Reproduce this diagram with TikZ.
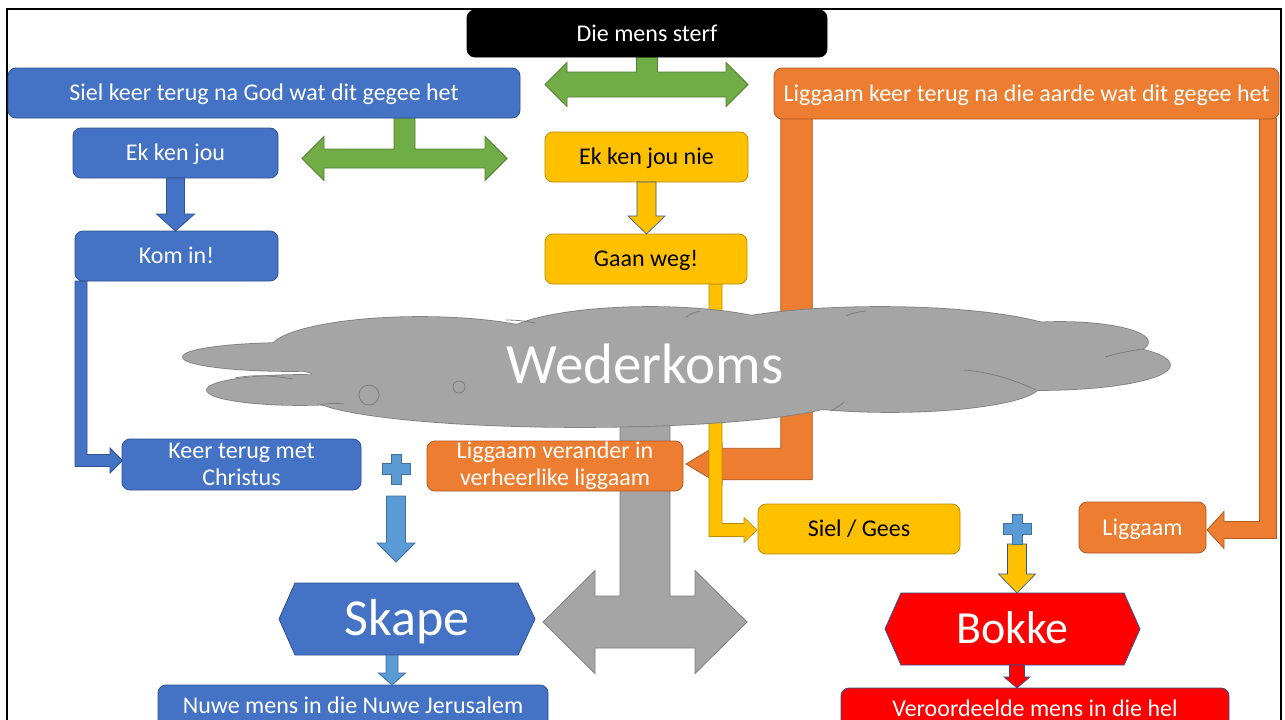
\documentclass[tikz,border=0pt]{standalone}
\usepackage{fontspec}
\setmainfont{Carlito}
\usetikzlibrary{calc}
\definecolor{cblue}{HTML}{4472C4}
\definecolor{cblueD}{HTML}{2F528F}
\definecolor{cyel}{HTML}{FFC000}
\definecolor{cyelD}{HTML}{BC8C00}
\definecolor{corg}{HTML}{ED7D31}
\definecolor{corgD}{HTML}{AE5A21}
\definecolor{cgrn}{HTML}{70AD47}
\definecolor{cgrnD}{HTML}{507E32}
\definecolor{cgray}{HTML}{A5A5A5}
\definecolor{cgrayD}{HTML}{7F7F7F}
\definecolor{clb}{HTML}{5B9BD5}
\definecolor{clbD}{HTML}{41719C}
\definecolor{cred}{HTML}{FF0000}
\definecolor{credD}{HTML}{2F528F}
\colorlet{blackD}{black}
\pgfdeclarelayer{arrows}
\pgfdeclarelayer{cloudl}
\pgfsetlayers{arrows,cloudl,main}
\newcommand\bodyfont{\fontsize{24}{27}\selectfont}
% vertical block arrow: style, start, tip, shaft half, head half, head length
\newcommand\downarr[6]{\path[#1] let \p1=(#2), \p2=(#3) in (\x1-#4,\y1) -- (\x1-#4,\y2+#6) -- (\x1-#5,\y2+#6) -- (\x1,\y2) -- (\x1+#5,\y2+#6) -- (\x1+#4,\y2+#6) -- (\x1+#4,\y1) -- cycle;}
% T-shaped double arrow: style, stem start, left tip, right tip, stem half, bar half, head half, head length
\newcommand\tarrow[8]{\path[#1] let \p1=(#2), \p2=(#3), \p3=(#4) in (\x1-#5,\y1) -- (\x1-#5,\y2+#6) -- (\x2+#8,\y2+#6) -- (\x2+#8,\y2+#7) -- (\x2,\y2) -- (\x2+#8,\y2-#7) -- (\x2+#8,\y2-#6) -- (\x3-#8,\y2-#6) -- (\x3-#8,\y2-#7) -- (\x3,\y2) -- (\x3-#8,\y2+#7) -- (\x3-#8,\y2+#6) -- (\x1+#5,\y2+#6) -- (\x1+#5,\y1) -- cycle;}
% elbow arrow down then right / left: style, start, tip, half width, head half, head length
\newcommand\elbowR[6]{\path[#1] let \p1=(#2), \p2=(#3) in (\x1-#4,\y1) -- (\x1-#4,\y2-#4) -- (\x2-#6,\y2-#4) -- (\x2-#6,\y2-#5) -- (\x2,\y2) -- (\x2-#6,\y2+#5) -- (\x2-#6,\y2+#4) -- (\x1+#4,\y2+#4) -- (\x1+#4,\y1) -- cycle;}
\newcommand\elbowL[6]{\path[#1] let \p1=(#2), \p2=(#3) in (\x1+#4,\y1) -- (\x1+#4,\y2-#4) -- (\x2+#6,\y2-#4) -- (\x2+#6,\y2-#5) -- (\x2,\y2) -- (\x2+#6,\y2+#5) -- (\x2+#6,\y2+#4) -- (\x1-#4,\y2+#4) -- (\x1-#4,\y1) -- cycle;}
\newcommand\plussign[2]{\path[#1] let \p1=(#2) in (\x1-5pt,\y1+15pt) -- (\x1+5pt,\y1+15pt) -- (\x1+5pt,\y1+5.5pt) -- (\x1+14pt,\y1+5.5pt) -- (\x1+14pt,\y1-5.5pt) -- (\x1+5pt,\y1-5.5pt) -- (\x1+5pt,\y1-15pt) -- (\x1-5pt,\y1-15pt) -- (\x1-5pt,\y1-5.5pt) -- (\x1-14pt,\y1-5.5pt) -- (\x1-14pt,\y1+5.5pt) -- (\x1-5pt,\y1+5.5pt) -- cycle;}
\tikzset{
  box/.style={draw=#1D, fill=#1, rounded corners=8pt, line width=0.8pt, font=\bodyfont,
    text height=15.5pt, text depth=0pt, align=center, text=white, inner sep=0pt, outer sep=0pt},
  box2/.style={box=#1, text height=, text depth=},
  hexn/.style={inner sep=0pt, outer sep=0pt, text=white, text depth=0pt},
  hexblue/.style={fill=cblue, draw=cblueD, line width=0.8pt},
  hexred/.style={fill=cred, draw=credD, line width=0.8pt},
  garrow/.style={fill=cgrn, draw=cgrnD, line width=0.8pt},
  barrow/.style={fill=cblue, draw=cblueD, line width=0.8pt},
  lbarrow/.style={fill=clb, draw=clbD, line width=0.8pt},
  yarrow/.style={fill=cyel, draw=cblueD, line width=0.6pt},
  ylarrow/.style={fill=cyel, draw=cyelD, line width=0.6pt},
  oarrow/.style={fill=corg, draw=corgD, line width=0.8pt},
  grarrow/.style={fill=cgray, draw=cgrayD, line width=0.8pt},
  rarrow/.style={fill=cred, draw=credD, line width=0.6pt},
  plusst/.style={fill=clb, draw=clbD, line width=0.6pt},
  cloudedge/.style={draw=cgrayD, line width=1.6pt},
  cloudline/.style={draw=cgrayD, line width=0.8pt},
}
\begin{document}
\begin{tikzpicture}[x=1pt,y=-1pt]
\useasboundingbox (0,0) rectangle (1285,720);
\clip (0,0) rectangle (1285,720);

% ---------- nodes ----------
\node[box=black, minimum width=360pt, minimum height=47pt] (die) at (647,33.5) {Die mens sterf};
\node[box=cblue, minimum width=512pt, minimum height=50pt] (sielgod) at (264,93) {Siel keer terug na God wat dit gegee het};
\node[box=cblue, minimum width=205pt, minimum height=50pt] (ekken) at (175.5,153) {Ek ken jou};
\node[box=cblue, minimum width=203pt, minimum height=50pt] (komin) at (176.5,256) {Kom in!};
\node[box2=cblue, minimum width=239pt, minimum height=51pt] (keer) at (241.5,464.5) {Keer terug met\\Christus};
\node[box=cblue, minimum width=390pt, minimum height=42pt] (nuwe) at (353,706) {Nuwe mens in die Nuwe Jerusalem};
\node[box=cyel, text=black, minimum width=203pt, minimum height=50pt] (ekkennie) at (646.5,157) {Ek ken jou nie};
\node[box=cyel, text=black, minimum width=202pt, minimum height=50pt] (gaan) at (646,259) {Gaan weg!};
\node[box=corg, minimum width=505pt, minimum height=51pt] (ligaarde) at (1026.5,93.5) {Liggaam keer terug na die aarde wat dit gegee het};
\node[box2=corg, minimum width=256pt, minimum height=50pt] (ligver) at (555,466) {Liggaam verander in\\verheerlike liggaam};
\node[box=cyel, text=black, minimum width=202pt, minimum height=50pt] (sielgees) at (859,529) {Siel / Gees};
\node[box=corg, minimum width=127pt, minimum height=51pt] (liggaam) at (1142.5,527.5) {Liggaam};
\node[box=cred, minimum width=388pt, minimum height=42pt] (hel) at (1035,709) {Veroordeelde mens in die hel};
\node[hexn, font=\fontsize{52}{60}\selectfont, text height=33.5pt, minimum width=256pt, minimum height=72pt] (skape) at (407,619) {Skape};
\node[hexn, font=\fontsize{46}{54}\selectfont, text height=29.6pt, minimum width=255pt, minimum height=72pt] (bokke) at (1012.5,629) {Bokke};
\node[font=\fontsize{57}{64}\selectfont, text=white, anchor=base, inner sep=0pt] (wk) at (645,383) {Wederkoms};

% ---------- helper coordinates ----------
\coordinate (gL1) at (545,84.5);
\coordinate (gR1) at (748,84.5);
\coordinate (g2s) at ($(sielgod.south)+(140.5,0)$);
\coordinate (gL2) at (302,158.5);
\coordinate (gR2) at (507,158.5);
\coordinate (cloudc) at (645,400);
\coordinate (grL) at (543,622);
\coordinate (grR) at (747,622);
\coordinate (bst) at ($(komin.south west)+(6,0)$);
\coordinate (btip) at ($(keer.west)+(0.5,-4)$);
\coordinate (yst) at ($(gaan.south east)+(-31.5,0)$);
\coordinate (ytip) at ($(sielgees.west)+(-1,1)$);
\coordinate (o1st) at ($(ligaarde.south west)+(22.5,-1)$);
\coordinate (o1tip) at ($(ligver.east)+(3,-2)$);
\coordinate (o2st) at ($(ligaarde.south east)+(-11,-1)$);
\coordinate (o2tip) at ($(liggaam.east)+(1,2.5)$);
\coordinate (plusL) at (396,469);
\coordinate (plusR) at (1017,529);
\coordinate (lbst) at ($(plusL)+(0,27)$);
\coordinate (lbtip) at ($(plusL |- skape.north)+(0,-21)$);
\coordinate (skA) at ($(skape.south)+(-15,0)$);
\coordinate (skB) at (skA |- nuwe.north);
\coordinate (bkst) at ($(plusR)+(0,15)$);
\coordinate (bktip) at (plusR |- bokke.north);
\coordinate (bkA) at ($(plusR |- bokke.south)+(0,0)$);
\coordinate (bkB) at (plusR |- hel.north);

% ---------- background arrows ----------
\begin{pgfonlayer}{arrows}
\fill[white] (0,0) rectangle (1285,720);
\draw[line width=2.5pt] (7,725) -- (7,9) -- (1281,9) -- (1281,725);
\tarrow{garrow}{die.south}{gL1}{gR1}{10.5pt}{12.5pt}{22pt}{22pt}
\tarrow{garrow}{g2s}{gL2}{gR2}{10.5pt}{9.5pt}{22pt}{22pt}
\elbowL{oarrow}{o1st}{o1tip}{15.75pt}{21.5pt}{36pt}
\elbowL{oarrow}{o2st}{o2tip}{8.5pt}{18.5pt}{17pt}
\elbowR{ylarrow}{yst}{ytip}{6.5pt}{12.5pt}{13pt}
\tarrow{grarrow}{cloudc}{grL}{grR}{25pt}{26pt}{51.5pt}{52pt}
\elbowR{barrow}{bst}{btip}{6pt}{12.5pt}{12.5pt}
\end{pgfonlayer}

% ---------- cloud and hexagons ----------
\begin{pgfonlayer}{cloudl}
\foreach \cx/\cy/\rx/\ry in {290/357/107/14, 300/390/93/15, 420/350/150/33, 650/340/150/33, 880/340/190/33, 1060/342/88/20, 1040/365/130/25, 580/395/270/32, 890/385/150/27, 660/370/350/40}
  \draw[cloudedge] (\cx,\cy) ellipse [x radius=\rx, y radius=\ry];
\foreach \cx/\cy/\rx/\ry in {290/357/107/14, 300/390/93/15, 420/350/150/33, 650/340/150/33, 880/340/190/33, 1060/342/88/20, 1040/365/130/25, 580/395/270/32, 890/385/150/27, 660/370/350/40}
  \fill[cgray] (\cx,\cy) ellipse [x radius=\rx, y radius=\ry];
\draw[cloudline] (235,378) .. controls (255,374) and (275,376) .. (293,379);
\draw[cloudline] (320,405) .. controls (328,403) and (336,403) .. (344,404);
\draw[cloudline] (506,320) .. controls (516,320) and (526,321) .. (535,323);
\draw[cloudline] (964,370) .. controls (990,372) and (1015,380) .. (1036,390);
\draw[cloudline] (1105,357) .. controls (1118,353) and (1130,351) .. (1142,349);
\draw[cloudline] (844,402) .. controls (840,406) and (836,408) .. (830,411);
\draw[cloudline] (686,317) .. controls (690,314) and (695,312) .. (700,311);
\draw[cloudline] (846,316) .. controls (852,313) and (858,312) .. (866,311);
\draw[cloudline, fill=cgray] (369,395) circle [radius=10];
\draw[cloudline, fill=cgray] (459,387) circle [radius=6];
\path[hexblue] (skape.west) -- ([xshift=16pt]skape.north west) -- ([xshift=-17pt]skape.north east) -- (skape.east) -- ([xshift=-17pt]skape.south east) -- ([xshift=16pt]skape.south west) -- cycle;
\path[hexred] (bokke.west) -- ([xshift=16pt]bokke.north west) -- ([xshift=-16pt]bokke.north east) -- (bokke.east) -- ([xshift=-16pt]bokke.south east) -- ([xshift=16pt]bokke.south west) -- cycle;
\end{pgfonlayer}

% ---------- foreground arrows ----------
\downarr{barrow}{ekken.south}{komin.north}{9pt}{19pt}{17pt}
\downarr{yarrow}{ekkennie.south}{gaan.north}{9.5pt}{18.5pt}{18pt}
\downarr{lbarrow}{lbst}{lbtip}{9.5pt}{19pt}{19pt}
\downarr{lbarrow}{skA}{skB}{6pt}{13.5pt}{12pt}
\downarr{yarrow}{bkst}{bktip}{9.5pt}{18.5pt}{19pt}
\downarr{rarrow}{bkA}{bkB}{7.5pt}{13pt}{11pt}
\plussign{plusst}{plusL}
\plussign{plusst}{plusR}
\end{tikzpicture}
\end{document}
